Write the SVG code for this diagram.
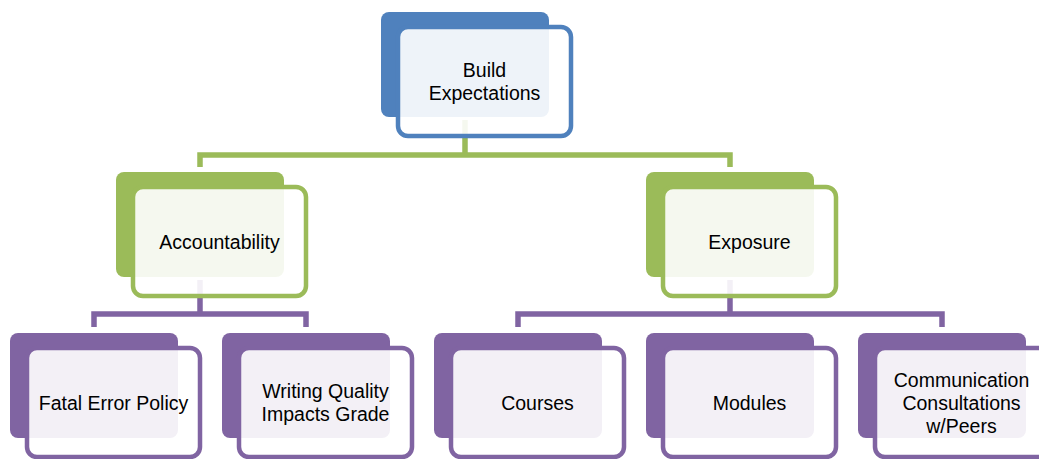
<svg xmlns="http://www.w3.org/2000/svg" width="1039" height="459" viewBox="0 0 1039 459">
<style>
.dk{stroke:none}
.ol{fill:#fff;fill-opacity:0.9;stroke-width:4.5}
.blue .dk{fill:#4F81BD}.blue .ol{stroke:#4F81BD}
.green .dk{fill:#9BBB59}.green .ol{stroke:#9BBB59}
.purple .dk{fill:#8064A2}.purple .ol{stroke:#8064A2}
text{font-family:"Liberation Sans",Arial,sans-serif;font-size:19.5px;fill:#000;text-anchor:middle}
.cg{fill:none;stroke:#9BBB59;stroke-width:5.5}
.cp{fill:none;stroke:#8064A2;stroke-width:5.5}
</style>
<g id="connectors">
<path class="cg" d="M465 120 V155 M200 167 V155 H730 V167"/>
<path class="cp" d="M200 280 V314 M94 327 V314 H306 V327"/>
<path class="cp" d="M730 280 V314 M518 327 V314 H942 V327"/>
</g>
<g id="build-expectations" class="blue">
<rect class="dk" x="381" y="12" width="168" height="105" rx="8"/>
<rect class="ol" x="398" y="27" width="173" height="109" rx="10"/>
<text x="484.5" y="77">Build</text>
<text x="484.5" y="100">Expectations</text>
</g>
<g id="accountability" class="green">
<rect class="dk" x="116" y="172" width="168" height="105" rx="8"/>
<rect class="ol" x="133" y="187" width="173" height="109" rx="10"/>
<text x="219.5" y="248.5">Accountability</text>
</g>
<g id="exposure" class="green">
<rect class="dk" x="646" y="172" width="168" height="105" rx="8"/>
<rect class="ol" x="663" y="187" width="173" height="109" rx="10"/>
<text x="749.5" y="248.5">Exposure</text>
</g>
<g id="fatal-error-policy" class="purple">
<rect class="dk" x="10" y="333" width="168" height="105" rx="8"/>
<rect class="ol" x="27" y="348" width="173" height="109" rx="10"/>
<text x="113.5" y="409.5">Fatal Error Policy</text>
</g>
<g id="writing-quality" class="purple">
<rect class="dk" x="222" y="333" width="168" height="105" rx="8"/>
<rect class="ol" x="239" y="348" width="173" height="109" rx="10"/>
<text x="325.5" y="398">Writing Quality</text>
<text x="325.5" y="421">Impacts Grade</text>
</g>
<g id="courses" class="purple">
<rect class="dk" x="434" y="333" width="168" height="105" rx="8"/>
<rect class="ol" x="451" y="348" width="173" height="109" rx="10"/>
<text x="537.5" y="409.5">Courses</text>
</g>
<g id="modules" class="purple">
<rect class="dk" x="646" y="333" width="168" height="105" rx="8"/>
<rect class="ol" x="663" y="348" width="173" height="109" rx="10"/>
<text x="749.5" y="409.5">Modules</text>
</g>
<g id="communication" class="purple">
<rect class="dk" x="858" y="333" width="168" height="105" rx="8"/>
<rect class="ol" x="875" y="348" width="173" height="109" rx="10"/>
<text x="961.5" y="386.5">Communication</text>
<text x="961.5" y="409.5">Consultations</text>
<text x="961.5" y="432.5">w/Peers</text>
</g>
</svg>
